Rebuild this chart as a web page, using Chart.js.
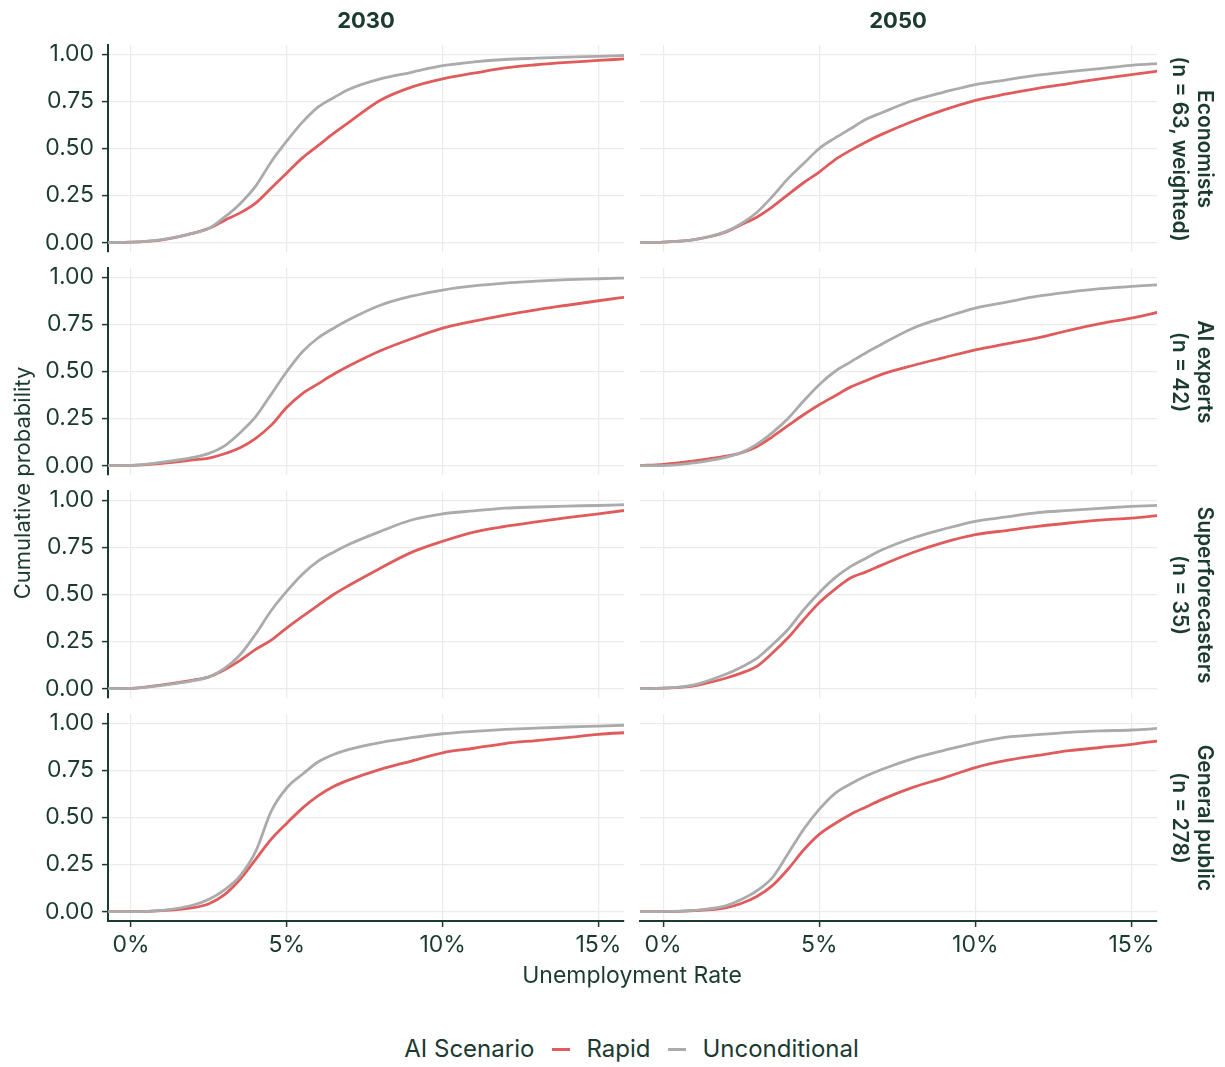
<!DOCTYPE html>
<html>
<head>
<meta charset="utf-8">
<script src="https://cdn.jsdelivr.net/npm/chart.js@4.4.1/dist/chart.umd.min.js"></script>
<style>
  body { margin: 0; width: 1225px; height: 1067px; background: #fff; position: relative; overflow: hidden;
         font-family: Inter, "Noto Sans", sans-serif; color: #1b3a30; }
  canvas { position: absolute; }
  .txt { position: absolute; white-space: nowrap; text-align: center; }
  .coltitle { top: 6px; width: 516px; font-size: 22px; font-weight: 700; line-height: 28px; }
  .strip { width: 207px; height: 52px; font-size: 21px; font-weight: 600; line-height: 25px; transform: rotate(90deg); }
  .legend { position: absolute; top: 1034px; left: 0; width: 1263px; display: flex; justify-content: center;
            align-items: center; font-size: 24px; line-height: 30px; }
  .key { display: inline-block; width: 18px; height: 3px; margin: 0 16px 0 18px; }
</style>
</head>
<body>
<script>
// unemployment rate grid (%), shared by all curves
const xGrid = [-0.75, 0, 1, 2, 2.5, 3, 3.5, 4, 4.5, 5, 5.5, 6, 6.5, 7, 8, 9, 10, 11, 12, 13, 14, 15, 16];

const econ2030Uncond = [0, 0.002, 0.016, 0.05, 0.075, 0.135, 0.207, 0.30, 0.43, 0.54, 0.64, 0.72, 0.77, 0.815, 0.87, 0.905, 0.94, 0.96, 0.973, 0.98, 0.986, 0.99, 0.995];
const econ2030Rapid  = [0, 0.002, 0.015, 0.05, 0.076, 0.118, 0.158, 0.21, 0.29, 0.37, 0.45, 0.515, 0.58, 0.64, 0.756, 0.826, 0.87, 0.90, 0.928, 0.945, 0.958, 0.968, 0.978];
const econ2050Uncond = [0, 0.003, 0.016, 0.058, 0.10, 0.16, 0.245, 0.34, 0.42, 0.50, 0.555, 0.605, 0.655, 0.69, 0.755, 0.80, 0.84, 0.865, 0.89, 0.908, 0.925, 0.942, 0.953];
const econ2050Rapid  = [0, 0.003, 0.016, 0.055, 0.095, 0.135, 0.19, 0.255, 0.318, 0.375, 0.44, 0.49, 0.535, 0.575, 0.645, 0.705, 0.756, 0.79, 0.82, 0.845, 0.87, 0.892, 0.915];

const ai2030Uncond = [0, 0.001, 0.018, 0.044, 0.065, 0.105, 0.175, 0.26, 0.38, 0.50, 0.605, 0.678, 0.73, 0.776, 0.852, 0.90, 0.933, 0.955, 0.97, 0.98, 0.988, 0.993, 0.997];
const ai2030Rapid  = [0, 0.001, 0.012, 0.03, 0.04, 0.063, 0.095, 0.145, 0.215, 0.31, 0.383, 0.434, 0.485, 0.53, 0.61, 0.674, 0.73, 0.768, 0.80, 0.828, 0.852, 0.876, 0.898];
const ai2050Uncond = [0, 0.0, 0.015, 0.044, 0.069, 0.113, 0.175, 0.25, 0.343, 0.43, 0.50, 0.55, 0.60, 0.645, 0.73, 0.787, 0.837, 0.869, 0.90, 0.922, 0.94, 0.952, 0.962];
const ai2050Rapid  = [0, 0.007, 0.025, 0.05, 0.068, 0.10, 0.153, 0.212, 0.27, 0.323, 0.37, 0.417, 0.451, 0.485, 0.532, 0.574, 0.615, 0.647, 0.679, 0.719, 0.754, 0.784, 0.82];

const sf2030Uncond = [0, 0.001, 0.017, 0.042, 0.062, 0.107, 0.18, 0.29, 0.415, 0.518, 0.608, 0.677, 0.725, 0.767, 0.835, 0.896, 0.929, 0.944, 0.959, 0.965, 0.97, 0.973, 0.978];
const sf2030Rapid  = [0, 0.001, 0.02, 0.045, 0.062, 0.10, 0.15, 0.208, 0.258, 0.323, 0.384, 0.442, 0.50, 0.549, 0.64, 0.724, 0.783, 0.832, 0.862, 0.886, 0.908, 0.929, 0.95];
const sf2050Uncond = [0, 0.002, 0.02, 0.076, 0.114, 0.16, 0.233, 0.314, 0.418, 0.509, 0.588, 0.648, 0.693, 0.736, 0.80, 0.848, 0.889, 0.912, 0.935, 0.947, 0.958, 0.968, 0.975];
const sf2050Rapid  = [0, 0.002, 0.015, 0.055, 0.082, 0.118, 0.189, 0.27, 0.366, 0.456, 0.527, 0.588, 0.62, 0.656, 0.723, 0.777, 0.818, 0.84, 0.862, 0.88, 0.895, 0.906, 0.922];

const gp2030Uncond = [0, 0.0, 0.007, 0.035, 0.066, 0.116, 0.19, 0.32, 0.534, 0.658, 0.73, 0.795, 0.835, 0.862, 0.898, 0.924, 0.945, 0.958, 0.968, 0.975, 0.981, 0.986, 0.991];
const gp2030Rapid  = [0, 0.0, 0.005, 0.021, 0.042, 0.09, 0.172, 0.278, 0.385, 0.47, 0.55, 0.615, 0.665, 0.70, 0.756, 0.80, 0.844, 0.868, 0.893, 0.909, 0.925, 0.942, 0.952];
const gp2050Uncond = [0, 0.0, 0.006, 0.03, 0.064, 0.11, 0.18, 0.307, 0.437, 0.543, 0.627, 0.678, 0.72, 0.755, 0.813, 0.857, 0.897, 0.927, 0.94, 0.952, 0.96, 0.965, 0.975];
const gp2050Rapid  = [0, 0.0, 0.005, 0.02, 0.043, 0.08, 0.138, 0.225, 0.327, 0.41, 0.467, 0.516, 0.556, 0.595, 0.66, 0.711, 0.765, 0.803, 0.83, 0.855, 0.872, 0.889, 0.91];

const years = ['2030', '2050'];
const groups = [
  ['Economists', '(n = 63, weighted)'],
  ['AI experts', '(n = 42)'],
  ['Superforecasters', '(n = 35)'],
  ['General public', '(n = 278)']
];
const seriesNames = ['Rapid', 'Unconditional'];
const xTickValues = [0, 5, 10, 15];
const yTickValues = [0, 0.25, 0.5, 0.75, 1];

// [row][col] -> [rapid, unconditional]
const panels = [
  [[econ2030Rapid, econ2030Uncond], [econ2050Rapid, econ2050Uncond]],
  [[ai2030Rapid, ai2030Uncond], [ai2050Rapid, ai2050Uncond]],
  [[sf2030Rapid, sf2030Uncond], [sf2050Rapid, sf2050Uncond]],
  [[gp2030Rapid, gp2030Uncond], [gp2050Rapid, gp2050Uncond]]
];

const INK = '#1b3a30';
const GRID = '#ebebeb';
const RED = '#e05c5c';
const GREY = '#ababab';
const FONT = 'Inter, "Noto Sans", sans-serif';

const PANEL_TOP = [45, 268, 491, 714];
const PANEL_H = 207;
const PAD = 26; // must exceed half a tick label plus tick padding
const X_AXIS_H = 42;
const COL_LEFT = [108, 640];
const COL_W = [516, 517];

function addText(cls, text, style) {
  const d = document.createElement('div');
  d.className = 'txt ' + cls;
  d.innerHTML = text;
  Object.assign(d.style, style);
  document.body.appendChild(d);
  return d;
}

function makePanel(row, col) {
  const isLeft = col === 0;
  const isBottom = row === 3;
  const yAxisW = isLeft ? 108 : 8;
  const canvasLeft = COL_LEFT[col] - yAxisW;
  const width = yAxisW + COL_W[col] + 10;
  const height = PAD + PANEL_H + (isBottom ? X_AXIS_H : PAD);

  const canvas = document.createElement('canvas');
  canvas.width = width;
  canvas.height = height;
  canvas.style.left = canvasLeft + 'px';
  canvas.style.top = (PANEL_TOP[row] - PAD) + 'px';
  document.body.appendChild(canvas);

  const [rapid, uncond] = panels[row][col];
  const toPts = arr => xGrid.map((x, i) => ({ x: x, y: arr[i] }));

  new Chart(canvas, {
    type: 'line',
    data: {
      datasets: [
        { label: seriesNames[1], data: toPts(uncond), borderColor: GREY },
        { label: seriesNames[0], data: toPts(rapid), borderColor: RED }
      ]
    },
    options: {
      responsive: false,
      animation: false,
      events: [],
      elements: {
        line: { borderWidth: 2.8, cubicInterpolationMode: 'monotone', fill: false },
        point: { radius: 0 }
      },
      layout: { padding: { top: PAD, right: 10, bottom: isBottom ? 0 : PAD, left: 0 } },
      plugins: { legend: { display: false }, tooltip: { enabled: false } },
      scales: {
        x: {
          type: 'linear', min: -0.74, max: 15.82, bounds: 'data',
          afterBuildTicks: s => { s.ticks = xTickValues.map(v => ({ value: v })); },
          afterFit: s => { s.height = isBottom ? X_AXIS_H : 0; },
          grid: { color: GRID, lineWidth: 1.2, drawTicks: isBottom, tickLength: 6, tickColor: INK, tickWidth: 1.5 },
          border: { display: isBottom, color: INK, width: 2 },
          ticks: { display: isBottom, color: INK, font: { family: FONT, size: 23 }, padding: 4,
                   maxRotation: 0, autoSkip: false, callback: v => v + '%' }
        },
        y: {
          type: 'linear', min: -0.05, max: 1.05, bounds: 'data',
          afterBuildTicks: s => { s.ticks = yTickValues.map(v => ({ value: v })); },
          afterFit: s => { s.width = yAxisW; },
          grid: { color: GRID, lineWidth: 1.2, drawTicks: isLeft, tickLength: 6, tickColor: INK, tickWidth: 1.5 },
          border: { display: isLeft, color: INK, width: 2 },
          ticks: { display: isLeft, color: INK, font: { family: FONT, size: 23 }, padding: 8,
                   callback: v => v.toFixed(2) }
        }
      }
    }
  });
}

for (let r = 0; r < 4; r++) {
  for (let c = 0; c < 2; c++) makePanel(r, c);
}

// facet titles
years.forEach((y, c) => addText('coltitle', y, { left: COL_LEFT[c] + 'px' }));
groups.forEach((g, r) => {
  const cy = PANEL_TOP[r] + PANEL_H / 2;
  addText('strip', g[0] + '<br>' + g[1], { left: (1191 - 103.5) + 'px', top: (cy - 26) + 'px' });
});

// axis titles
addText('', 'Cumulative probability', {
  left: (22 - 300) + 'px', top: (483 - 14) + 'px', width: '600px', fontSize: '22px', lineHeight: '28px',
  transform: 'rotate(-90deg)'
});
addText('', 'Unemployment Rate', {
  left: (632 - 300) + 'px', top: '961px', width: '600px', fontSize: '23px', lineHeight: '28px'
});

// legend
const lg = document.createElement('div');
lg.className = 'legend';
lg.innerHTML = '<span>AI Scenario</span>' +
  '<span class="key" style="background:' + RED + '"></span><span>' + seriesNames[0] + '</span>' +
  '<span class="key" style="background:' + GREY + '"></span><span>' + seriesNames[1] + '</span>';
document.body.appendChild(lg);
</script>
</body>
</html>
